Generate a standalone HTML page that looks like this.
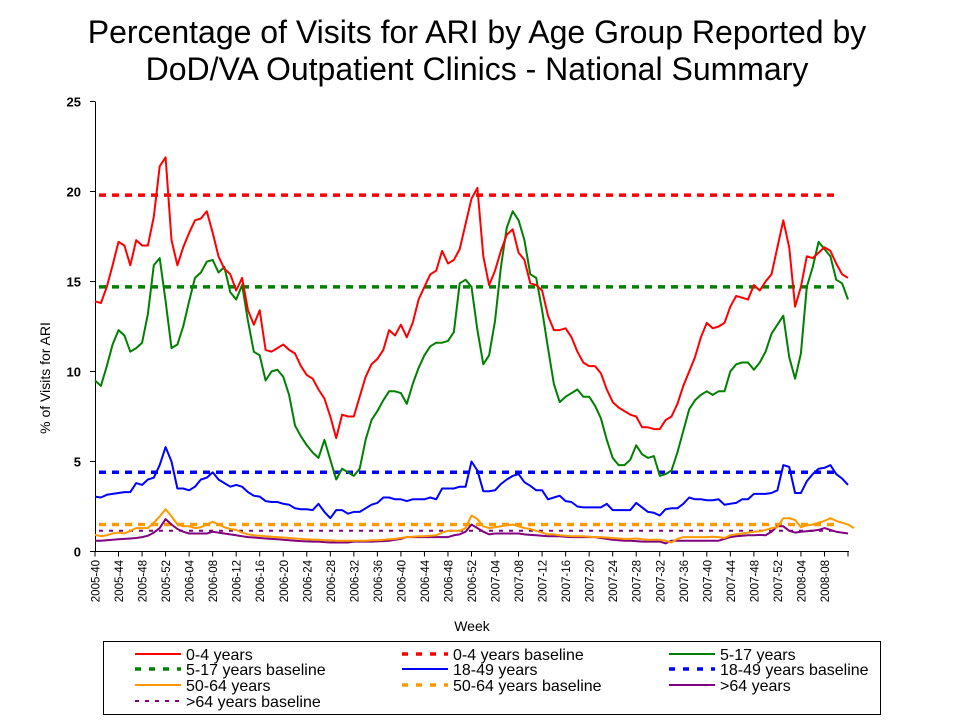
<!DOCTYPE html>
<html><head><meta charset="utf-8"><style>
body{margin:0;background:#fff;}
svg{display:block;font-family:"Liberation Sans",Arial,sans-serif;}
</style></head><body>
<svg id="chart" width="960" height="720" viewBox="0 0 960 720" xmlns="http://www.w3.org/2000/svg">
<text x="477" y="43" font-size="32" text-anchor="middle">Percentage of Visits for ARI by Age Group Reported by</text>
<text x="477" y="80" font-size="32" text-anchor="middle">DoD/VA Outpatient Clinics - National Summary</text>
<text transform="translate(50,378) rotate(-90)" font-size="14" text-anchor="middle">% of Visits for ARI</text>
<text x="472" y="631" font-size="14" text-anchor="middle">Week</text>
<g id="axes"></g>
<g id="plot"></g>
<rect x="103.5" y="641.5" width="777" height="73" fill="none" stroke="#000" stroke-width="1"/>
<g id="legend"></g>
</svg>
<script>
const weeks=[];
(function(){let y=2005,w=40;for(let i=0;i<129;i++){weeks.push(y+'-'+String(w).padStart(2,'0'));w++;if(w>52){w=1;y++;}}})();
const yTicks=[0,5,10,15,20,25];
const age04=[13.9,13.8,14.7,15.9,17.2,17.0,15.9,17.3,17.0,17.0,18.6,21.4,21.9,17.3,15.9,16.9,17.7,18.4,18.5,18.9,17.7,16.4,15.7,15.4,14.5,15.2,13.4,12.6,13.4,11.2,11.1,11.3,11.5,11.2,11.0,10.3,9.8,9.6,9.0,8.5,7.5,6.3,7.6,7.5,7.5,8.6,9.7,10.4,10.7,11.2,12.3,12.0,12.6,11.9,12.7,14.0,14.7,15.4,15.6,16.7,16.0,16.2,16.8,18.2,19.6,20.2,16.4,14.8,15.6,16.7,17.6,17.9,16.6,16.2,14.9,14.8,14.5,13.1,12.3,12.3,12.4,11.9,11.1,10.5,10.3,10.3,9.9,9.0,8.3,8.0,7.8,7.6,7.5,6.9,6.9,6.8,6.8,7.3,7.5,8.2,9.2,10.0,10.8,11.9,12.7,12.4,12.5,12.7,13.6,14.2,14.1,14.0,14.8,14.5,15.0,15.4,16.9,18.4,16.9,13.6,14.7,16.4,16.3,16.6,16.9,16.7,16.0,15.4,15.2];
const age517=[9.5,9.2,10.3,11.5,12.3,12.0,11.1,11.3,11.6,13.2,15.9,16.3,13.9,11.3,11.5,12.5,13.9,15.2,15.5,16.1,16.2,15.5,15.8,14.4,14.0,14.8,12.8,11.1,10.9,9.5,10.0,10.1,9.7,8.7,7.0,6.4,5.9,5.5,5.2,6.2,5.1,4.0,4.6,4.4,4.2,4.6,6.2,7.3,7.8,8.4,8.9,8.9,8.8,8.2,9.3,10.2,10.9,11.4,11.6,11.6,11.7,12.2,14.9,15.1,14.7,12.3,10.4,10.9,12.8,15.8,18.0,18.9,18.4,17.3,15.4,15.2,13.4,11.3,9.3,8.3,8.6,8.8,9.0,8.6,8.6,8.1,7.4,6.2,5.2,4.8,4.8,5.1,5.9,5.4,5.2,5.3,4.2,4.3,4.5,5.5,6.7,7.9,8.4,8.7,8.9,8.7,8.9,8.9,10.0,10.4,10.5,10.5,10.1,10.5,11.1,12.1,12.6,13.1,10.8,9.6,11.0,14.7,15.8,17.2,16.8,16.4,15.1,14.9,14.0];
const age1849=[3.05,3.0,3.15,3.2,3.25,3.3,3.3,3.8,3.7,4.0,4.1,4.8,5.8,5.0,3.5,3.5,3.4,3.6,4.0,4.1,4.4,4.0,3.8,3.6,3.7,3.6,3.3,3.1,3.05,2.8,2.75,2.75,2.65,2.6,2.4,2.35,2.35,2.3,2.65,2.2,1.85,2.3,2.3,2.1,2.2,2.2,2.4,2.6,2.7,3.0,3.0,2.9,2.9,2.8,2.9,2.9,2.9,3.0,2.9,3.5,3.5,3.5,3.6,3.6,5.0,4.5,3.35,3.35,3.4,3.75,4.0,4.2,4.3,3.85,3.65,3.4,3.4,2.9,3.0,3.1,2.8,2.75,2.5,2.45,2.45,2.45,2.45,2.65,2.3,2.3,2.3,2.3,2.7,2.45,2.2,2.15,2.0,2.35,2.4,2.4,2.65,3.0,2.9,2.9,2.85,2.85,2.9,2.6,2.65,2.7,2.9,2.9,3.2,3.2,3.2,3.25,3.4,4.8,4.7,3.25,3.25,3.9,4.3,4.6,4.65,4.8,4.3,4.05,3.7];
const age5064=[0.93,0.85,0.9,1.0,1.05,1.0,1.15,1.3,1.3,1.3,1.6,1.95,2.35,1.95,1.5,1.4,1.4,1.3,1.35,1.5,1.65,1.5,1.35,1.25,1.2,1.05,0.95,0.9,0.88,0.85,0.82,0.8,0.78,0.75,0.72,0.7,0.68,0.66,0.65,0.63,0.62,0.6,0.6,0.6,0.6,0.6,0.6,0.62,0.63,0.65,0.68,0.7,0.75,0.8,0.82,0.85,0.85,0.88,0.9,1.05,1.15,1.15,1.15,1.3,2.0,1.8,1.4,1.3,1.35,1.4,1.45,1.5,1.4,1.3,1.25,1.15,1.05,0.95,0.95,0.9,0.88,0.85,0.85,0.85,0.82,0.8,0.8,0.78,0.75,0.72,0.7,0.7,0.72,0.68,0.65,0.65,0.65,0.6,0.5,0.7,0.8,0.8,0.8,0.8,0.8,0.82,0.8,0.75,0.9,0.95,1.0,1.05,1.1,1.12,1.2,1.3,1.35,1.85,1.85,1.75,1.35,1.45,1.5,1.6,1.7,1.85,1.7,1.6,1.5,1.3];
const age64=[0.6,0.6,0.62,0.65,0.68,0.7,0.72,0.75,0.8,0.88,1.05,1.3,1.8,1.5,1.25,1.1,1.0,1.0,1.0,1.0,1.1,1.05,1.0,0.95,0.9,0.85,0.8,0.78,0.75,0.72,0.7,0.68,0.65,0.62,0.6,0.58,0.56,0.55,0.55,0.52,0.5,0.5,0.5,0.5,0.55,0.55,0.55,0.55,0.56,0.58,0.6,0.65,0.7,0.8,0.8,0.8,0.8,0.8,0.8,0.8,0.8,0.9,0.95,1.1,1.5,1.3,1.1,0.95,1.0,1.0,1.0,1.0,1.0,0.95,0.92,0.9,0.88,0.85,0.85,0.85,0.82,0.8,0.8,0.8,0.8,0.8,0.75,0.7,0.65,0.62,0.6,0.6,0.58,0.55,0.55,0.55,0.55,0.45,0.6,0.6,0.6,0.6,0.6,0.6,0.6,0.6,0.6,0.7,0.8,0.85,0.88,0.9,0.9,0.92,0.9,1.1,1.4,1.4,1.15,1.05,1.1,1.12,1.15,1.2,1.3,1.2,1.1,1.05,1.0];
const baselines=[19.8,14.7,4.4,1.5,1.15];

const NS="http://www.w3.org/2000/svg";
const X0=95,X1=848,Y0=551.5,Y1=101.5;
const xs=i=>X0+i*(X1-X0)/(weeks.length-1);
const ys=v=>Y0-v*(Y0-Y1)/25;
function mk(tag,attrs,parent){const e=document.createElementNS(NS,tag);for(const k in attrs)e.setAttribute(k,attrs[k]);parent.appendChild(e);return e;}
const axes=document.getElementById('axes'),plot=document.getElementById('plot'),leg=document.getElementById('legend');

let a=mk('line',{x1:95.5,y1:Y1,x2:95.5,y2:Y0,stroke:'#000','stroke-width':1},axes);

a=mk('line',{x1:95,y1:Y0,x2:X1+1,y2:Y0,stroke:'#000','stroke-width':1},axes);

yTicks.forEach(v=>{
  const y=ys(v);
  mk('line',{x1:90,y1:y,x2:95,y2:y,stroke:'#000'},axes);
  const t=mk('text',{x:81,y:y+5,'font-size':13,'font-weight':'bold','text-anchor':'end'},axes);
  
  
  t.textContent=v;
});
weeks.forEach((w,i)=>{
  if(i%4!==0)return;
  const x=xs(i);
  mk('line',{x1:x,y1:Y0,x2:x,y2:Y0+5,stroke:'#000'},axes);
  if(i===weeks.length-1)return;
  const t=mk('text',{transform:`translate(${x+4.5},560) rotate(-90)`,'font-size':11.5,'text-anchor':'end'},axes);
  
  
  t.textContent=w;
});

const colors=['#ff0000','#008000','#0000ff','#ff9900','#800080'];
const series=[age04,age517,age1849,age5064,age64];
const names=['0-4 years','5-17 years','18-49 years','50-64 years','>64 years'];
const keys=['age-0-4','age-5-17','age-18-49','age-50-64','age-over-64'];
const dashFor=i=>i===4?'4,6':'7,6';
const widthFor=i=>i===4?2:3.5;
baselines.forEach((b,i)=>{
  const l=mk('line',{x1:xs(0)+4,y1:ys(b),x2:xs(weeks.length-1)-10,y2:ys(b),stroke:colors[i],'stroke-width':widthFor(i),'stroke-dasharray':dashFor(i)},plot);
  
  
});
for(let s=series.length-1;s>=0;s--){
  const d=series[s].map((v,i)=>(i?'L':'M')+xs(i).toFixed(1)+','+ys(v).toFixed(1)).join(' ');
  const p=mk('path',{d:d,fill:'none',stroke:colors[s],'stroke-width':2,'stroke-linejoin':'round'},plot);
  
  
}

const entries=[];
for(let i=0;i<5;i++){entries.push({label:names[i],c:colors[i],dash:null,k:keys[i],i});entries.push({label:names[i]+' baseline',c:colors[i],dash:dashFor(i),k:keys[i]+'-baseline',i});}
const colX=[135,402,669],rowY=[654,669,685,701];
entries.forEach((e,n)=>{
  const col=n%3,row=Math.floor(n/3);
  const g=mk('g',{},leg);
  
  
  const at={x1:colX[col],y1:rowY[row],x2:colX[col]+46,y2:rowY[row],stroke:e.c,'stroke-width':e.dash?(e.i===4?2:3.5):2};
  if(e.dash)at['stroke-dasharray']=e.i===4?'4,6':'6,8';
  mk('line',at,g);
  const t=mk('text',{x:colX[col]+51,y:rowY[row]+6,'font-size':16},g);
  t.textContent=e.label;
});
</script>
</body></html>
